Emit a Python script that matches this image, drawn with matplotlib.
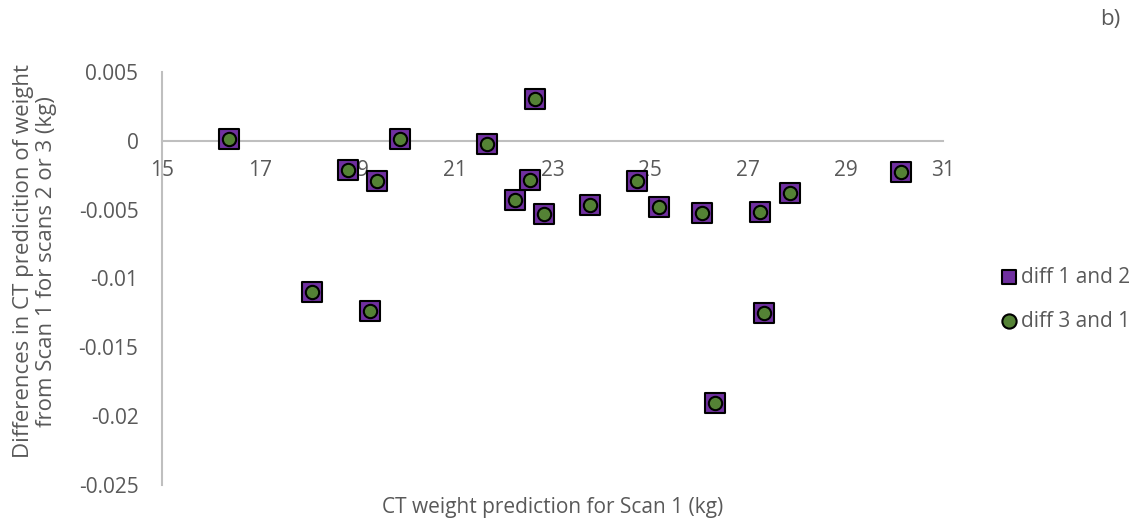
import numpy as np
import matplotlib.pyplot as plt

# CT weight prediction for scan 1 (kg)
scan1_weight = [16.37, 18.08, 18.81, 19.27, 19.41, 19.88, 21.65, 22.23, 22.54, 22.64,
                22.83, 23.77, 24.73, 25.18, 26.07, 26.32, 27.25, 27.34, 27.87, 30.14]

# differences between scans (kg)
diff_1_2 = [0.0001, -0.01097, -0.00212, -0.01239, -0.00294, 0.00015, -0.00025, -0.0043,
            -0.00285, 0.00302, -0.00532, -0.00467, -0.0029, -0.00481, -0.00525, -0.01903,
            -0.00517, -0.01254, -0.00377, -0.00229]
diff_3_1 = [0.0001, -0.01097, -0.00212, -0.01239, -0.00294, 0.00015, -0.00025, -0.0043,
            -0.00285, 0.00302, -0.00532, -0.00467, -0.0029, -0.00481, -0.00525, -0.01903,
            -0.00517, -0.01254, -0.00377, -0.00229]

x_ticks = np.arange(15, 32, 2)
y_ticks = [0.005, 0, -0.005, -0.01, -0.015, -0.02, -0.025]
y_tick_labels = ["0.005", "0", "-0.005", "-0.01", "-0.015", "-0.02", "-0.025"]

text_col = "#595959"
axis_col = "#BFBFBF"
plt.rcParams['font.family'] = ['Open Sans', 'DejaVu Sans']

fig = plt.figure(figsize=(11.34, 5.23), dpi=100)
ax = fig.add_axes([0.1429, 0.0727, 0.6887, 0.7896])

ax.scatter(scan1_weight, diff_1_2, marker="s", s=200, color="#7030A0",
           edgecolors="black", linewidths=1.5, label="diff 1 and 2", zorder=3)
ax.scatter(scan1_weight, diff_3_1, marker="o", s=92, color="#548235",
           edgecolors="black", linewidths=1.5, label="diff 3 and 1", zorder=4)

ax.set_xlim(15, 31)
ax.set_ylim(-0.025, 0.005)
ax.set_xticks(x_ticks)
ax.set_yticks(y_ticks)
ax.set_yticklabels(y_tick_labels)

# horizontal axis sits on y = 0
ax.spines['bottom'].set_position(('data', 0))
ax.spines['bottom'].set_color(axis_col)
ax.spines['bottom'].set_linewidth(1.5)
ax.spines['left'].set_color(axis_col)
ax.spines['left'].set_linewidth(1.5)
ax.spines['top'].set_visible(False)
ax.spines['right'].set_visible(False)

ax.tick_params(axis='x', length=0, pad=14, labelsize=15, labelcolor=text_col)
ax.tick_params(axis='y', length=0, pad=17, labelsize=15, labelcolor=text_col)

fig.text(0.031, 0.5, "Differences in CT predicition of weight\nfrom Scan 1 for scans 2 or 3 (kg)",
         fontsize=16, color=text_col, rotation=90, ha="center", va="center",
         linespacing=1.15, multialignment="center")
fig.text(0.487, 0.03, "CT weight prediction for Scan 1 (kg)", fontsize=15,
         color=text_col, ha="center", va="center")
fig.text(0.970, 0.962, "b)", fontsize=16, color=text_col, ha="left", va="center")

leg = ax.legend(loc="center left", bbox_to_anchor=(0.862, 0.428),
                bbox_transform=fig.transFigure, frameon=False,
                fontsize=15, handletextpad=0.0, labelspacing=1.1,
                handlelength=1.2, labelcolor=text_col)
leg.legend_handles[0].set_sizes([105])
leg.legend_handles[1].set_sizes([105])

fig.savefig("out.png", dpi=100)
